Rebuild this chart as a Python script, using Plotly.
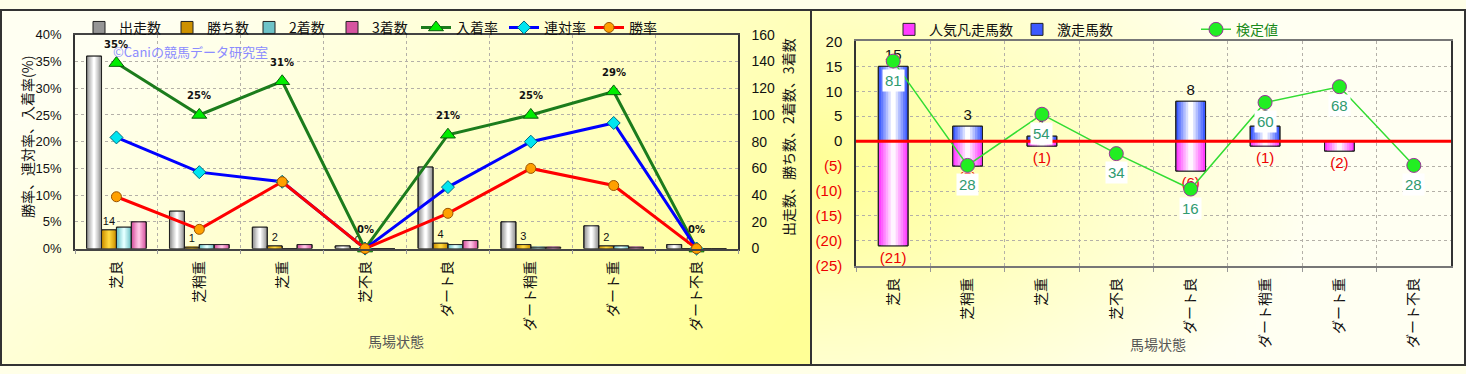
import base64
import struct
import zlib

import plotly.graph_objects as go

# ---------------------------------------------------------------- data
CATEGORIES = ["芝良", "芝稍重", "芝重", "芝不良", "ダート良", "ダート稍重", "ダート重", "ダート不良"]

STARTS = [144, 28, 16, 2, 61, 20, 17, 3]      # 出走数
WINS = [14, 1, 2, 0, 4, 3, 2, 0]              # 勝ち数
SECONDS = [16, 3, 0, 0, 3, 1, 2, 0]           # 2着数
THIRDS = [20, 3, 3, 0, 6, 1, 1, 0]            # 3着数

PLACE_RATE = [34.7, 25.0, 31.3, 0.0, 21.3, 25.0, 29.4, 0.0]     # 入着率 (%)
QUINELLA_RATE = [20.8, 14.3, 12.5, 0.0, 11.5, 20.0, 23.5, 0.0]  # 連対率 (%)
WIN_RATE = [9.7, 3.6, 12.5, 0.0, 6.6, 15.0, 11.8, 0.0]          # 勝率 (%)

HIT_COUNT = [15, 3, 1, 0, 8, 3, 0, 0]         # 激走馬数
FLOP_COUNT = [21, 5, 1, 0, 6, 1, 2, 0]        # 人気凡走馬数
TEST_VALUE = [81, 28, 54, 34, 16, 60, 68, 28]  # 検定値

PCT_TICKS = list(range(0, 41, 5))
COUNT_TICKS = list(range(0, 161, 20))
DIFF_TICKS = list(range(-25, 21, 5))

# ---------------------------------------------------------------- helpers
W, H = 1466, 374
FONT = "Liberation Sans, Noto Sans CJK JP"
JP = "Noto Sans CJK JP, Liberation Sans"


def px_x(p):
    return p / W


def px_y(p):
    return 1 - p / H


def hexcol(c):
    return "#%02x%02x%02x" % tuple(int(round(v)) for v in c)


def lerp(c0, c1, t):
    return tuple(a + (b - a) * t for a, b in zip(c0, c1))


def gradient_png(w, h, shade):
    """Small RGB PNG whose pixel colour comes from shade(u, v) with u, v in [0, 1]."""
    rows = []
    for j in range(h):
        row = bytearray([0])
        for i in range(w):
            r, g, b = shade(i / (w - 1), j / (h - 1))
            row += bytes([int(r), int(g), int(b)])
        rows.append(bytes(row))
    raw = b"".join(rows)

    def chunk(tag, data):
        c = struct.pack(">I", len(data)) + tag + data
        return c + struct.pack(">I", zlib.crc32(tag + data) & 0xFFFFFFFF)

    png = b"\x89PNG\r\n\x1a\n"
    png += chunk(b"IHDR", struct.pack(">IIBBBBB", w, h, 8, 2, 0, 0, 0))
    png += chunk(b"IDAT", zlib.compress(raw, 9))
    png += chunk(b"IEND", b"")
    return "data:image/png;base64," + base64.b64encode(png).decode()


LIGHT = (255, 255, 242)
YELLOW = (255, 255, 150)


def left_shade(u, v):
    t = min(1.0, max(0.0, 0.75 * u + 0.45 * v - 0.15))
    return lerp(LIGHT, YELLOW, t)


def right_shade(u, v):
    d = ((u * 1.3) ** 2 + ((v - 0.45) * 1.1) ** 2) ** 0.5
    t = min(1.0, d)
    return lerp(YELLOW, LIGHT, t)


fig = go.Figure()

# each legend entry gets its own legend box so the entries can be spaced freely
legend_boxes = {}


def legend_for(key, text_x, text_y):
    name = "legend" if not legend_boxes else f"legend{len(legend_boxes) + 1}"
    legend_boxes[name] = dict(
        x=px_x(text_x - 41), y=px_y(text_y - 12), xanchor="left", yanchor="top",
        orientation="h", bgcolor="rgba(0,0,0,0)", font=dict(size=14, family=JP),
        itemwidth=30,
    )
    return name


def add_cylinder_bars(x, y, center, width, edge, mid, name, legend, xaxis, yaxis,
                      text=None, textfont=None, layers=6):
    """Bars with a simple cylindrical shading built from nested layers."""
    for k in range(layers):
        frac = 1 - k / layers
        w = width * frac
        color = hexcol(lerp(edge, mid, k / (layers - 1)))
        fig.add_bar(
            x=x, y=y, width=w, offset=center - w / 2,
            marker=dict(color=color, line=dict(width=1 if k == 0 else 0, color="#222222")),
            name=name, legend=legend, showlegend=(k == 0),
            xaxis=xaxis, yaxis=yaxis, hoverinfo="skip",
        )
    fig.add_bar(
        x=x, y=y, width=width, offset=center - width / 2,
        marker=dict(color="rgba(0,0,0,0)", line=dict(width=1, color="#222222")),
        showlegend=False, xaxis=xaxis, yaxis=yaxis, hoverinfo="skip",
        text=text, textposition="outside" if text is not None else None,
        textfont=textfont, cliponaxis=False, constraintext="none",
    )


# ---------------------------------------------------------------- left chart: bars
BAR_W = 0.18
bar_series = [
    (STARTS, "出走数", (150, 150, 150), (255, 255, 255), None, 120),
    (WINS, "勝ち数", (205, 145, 0), (255, 215, 60), [str(v) for v in WINS], 208),
    (SECONDS, "2着数", (110, 195, 200), (225, 255, 255), None, 290),
    (THIRDS, "3着数", (215, 85, 160), (255, 195, 228), None, 373),
]
for i, (vals, name, edge, mid, txt, lx) in enumerate(bar_series):
    add_cylinder_bars(
        CATEGORIES, vals, -0.27 + i * BAR_W, BAR_W, edge, mid, name,
        legend_for(name, lx, 15), "x", "y",
        text=txt, textfont=dict(size=11, color="#111111", family=FONT),
    )

# ---------------------------------------------------------------- left chart: rate lines
fig.add_scatter(
    x=CATEGORIES, y=PLACE_RATE, name="入着率", legend=legend_for("place", 457, 15),
    mode="lines+markers", xaxis="x", yaxis="y2",
    line=dict(color="#1c7c1c", width=3),
    marker=dict(symbol="triangle-up", size=13, color="#00ee00", line=dict(color="#0d5c0d", width=1)),
    cliponaxis=False, hoverinfo="skip",
)
fig.add_scatter(
    x=CATEGORIES, y=QUINELLA_RATE, name="連対率", legend=legend_for("quinella", 545, 15),
    mode="lines+markers", xaxis="x", yaxis="y2",
    line=dict(color="#0000ff", width=3),
    marker=dict(symbol="diamond", size=10, color="#00e5f0", line=dict(color="#006a80", width=1)),
    cliponaxis=False, hoverinfo="skip",
)
fig.add_scatter(
    x=CATEGORIES, y=WIN_RATE, name="勝率", legend=legend_for("win", 630, 15),
    mode="lines+markers", xaxis="x", yaxis="y2",
    line=dict(color="#ff0000", width=3),
    marker=dict(symbol="circle", size=10, color="#ffa000", line=dict(color="#9a5200", width=1)),
    cliponaxis=False, hoverinfo="skip",
)

# ---------------------------------------------------------------- right chart: bars
add_cylinder_bars(
    CATEGORIES, [-v for v in FLOP_COUNT], 0.0, 0.40, (255, 60, 255), (255, 245, 255),
    "人気凡走馬数", legend_for("flop", 930, 17), "x2", "y3",
    text=[f"({v})" if v else "" for v in FLOP_COUNT],
    textfont=dict(size=15, color="#ee0000", family=FONT),
)
add_cylinder_bars(
    CATEGORIES, HIT_COUNT, 0.0, 0.40, (60, 90, 255), (255, 255, 255),
    "激走馬数", legend_for("hit", 1058, 17), "x2", "y3",
    text=[str(v) if v else "" for v in HIT_COUNT],
    textfont=dict(size=15, color="#111111", family=FONT),
)

fig.add_scatter(
    x=CATEGORIES, y=TEST_VALUE, name='<span style="color:#1a8a1a">検定値</span>',
    legend=legend_for("test", 1237, 17),
    mode="lines+markers", xaxis="x2", yaxis="y4",
    line=dict(color="#33dd33", width=1.5),
    marker=dict(symbol="circle", size=14, color="#22ee22", line=dict(color="#993399", width=1)),
    cliponaxis=False, hoverinfo="skip",
)

# ---------------------------------------------------------------- annotations
annotations = [
    dict(text="©Caniの競馬データ研究室", x=px_x(111), y=px_y(45), xref="paper", yref="paper",
         xanchor="left", yanchor="middle", showarrow=False,
         font=dict(size=13, color="#8c8cff", family=JP)),
    dict(text="勝率、連対率、入着率(%)", x=px_x(27), y=px_y(134), xref="paper", yref="paper",
         xanchor="center", yanchor="middle",
         textangle=-90, showarrow=False, font=dict(size=14, color="#111111", family=JP)),
    dict(text="出走数、勝ち数、2着数、3着数", x=px_x(788), y=px_y(134), xref="paper", yref="paper",
         xanchor="center", yanchor="middle",
         textangle=-90, showarrow=False, font=dict(size=14, color="#111111", family=JP)),
    dict(text="馬場状態", x=px_x(396), y=px_y(348), xref="paper", yref="paper",
         xanchor="center", yanchor="middle",
         showarrow=False, font=dict(size=14, color="#555555", family=JP)),
    dict(text="馬場状態", x=px_x(1158), y=px_y(351), xref="paper", yref="paper",
         xanchor="center", yanchor="middle",
         showarrow=False, font=dict(size=14, color="#555555", family=JP)),
]
# percentage labels above the 入着率 points
for cat, val in zip(CATEGORIES, PLACE_RATE):
    annotations.append(dict(
        text=f"<b>{val:.0f}%</b>", x=cat, y=val, xref="x", yref="y2", yshift=19,
        showarrow=False, font=dict(size=10, color="#111111", family="DejaVu Sans"),
    ))
# 検定値 labels under each point
for cat, val in zip(CATEGORIES, TEST_VALUE):
    annotations.append(dict(
        text=str(val), x=cat, y=val, xref="x2", yref="y4", yshift=-19,
        showarrow=False, bgcolor="#ffffff", borderpad=2,
        font=dict(size=15, color="#2f9a70", family=FONT),
    ))

# ---------------------------------------------------------------- layout
grid = dict(showgrid=True, gridcolor="#b4b0a8", griddash="dot", gridwidth=1)
xcommon = dict(type="category", tickson="boundaries", tickangle=-90, range=[-0.5, 7.5],
               ticks="outside", ticklen=4, tickcolor="#999999", ticklabelstandoff=5,
               tickfont=dict(size=14, color="#111111", family=JP), **grid)

pct_text = [f"{v}%" for v in PCT_TICKS]
diff_text = [f'<span style="color:#ee0000">({-v})</span>' if v < 0 else str(v) for v in DIFF_TICKS]

fig.update_layout(
    width=W, height=H, margin=dict(l=0, r=0, t=0, b=0),
    paper_bgcolor="#ffffe8", plot_bgcolor="#f6ecd6",
    barmode="overlay", showlegend=True,
    font=dict(family=FONT, color="#111111"),
    xaxis=dict(domain=[px_x(75), px_x(738)], anchor="y", showline=True, linecolor="#444444",
               linewidth=1.5, mirror=True, **xcommon),
    yaxis=dict(domain=[px_y(251), px_y(27)], anchor="x", side="right", range=[0, 160],
               tickvals=COUNT_TICKS, showline=True, linecolor="#333333", linewidth=1.5,
               ticks="", ticklabelstandoff=9, tickfont=dict(size=14), zeroline=False, **grid),
    yaxis2=dict(overlaying="y", side="left", anchor="x", range=[0, 40], tickvals=PCT_TICKS,
                ticktext=pct_text, showgrid=False, showline=True, linecolor="#333333",
                linewidth=1.5, ticks="", ticklabelstandoff=9, tickfont=dict(size=13),
                zeroline=False),
    xaxis2=dict(domain=[px_x(856), px_x(1451)], anchor="y3", showline=True, linecolor="#777777",
                linewidth=1.5, mirror=True, **xcommon),
    yaxis3=dict(domain=[px_y(269), px_y(34)], anchor="x2", range=[-25, 20], tickvals=DIFF_TICKS,
                ticktext=diff_text, showline=True, linecolor="#333333", linewidth=1.5, mirror=True,
                ticks="", ticklabelstandoff=9, tickfont=dict(size=15), zeroline=False, **grid),
    yaxis4=dict(overlaying="y3", anchor="x2", range=[-23, 91], visible=False),
    annotations=annotations,
    images=[
        dict(source=gradient_png(64, 24, left_shade), xref="paper", yref="paper",
             x=0, y=1, sizex=px_x(811), sizey=1, xanchor="left", yanchor="top",
             sizing="stretch", layer="below"),
        dict(source=gradient_png(64, 24, right_shade), xref="paper", yref="paper",
             x=px_x(811), y=1, sizex=1 - px_x(811), sizey=1, xanchor="left", yanchor="top",
             sizing="stretch", layer="below"),
    ],
    shapes=[
        dict(type="line", xref="x2 domain", yref="y3", x0=0, x1=1, y0=0, y1=0,
             line=dict(color="#ff0000", width=3), layer="above"),
        dict(type="rect", xref="paper", yref="paper", x0=px_x(1), x1=px_x(811), y0=px_y(373), y1=px_y(1),
             line=dict(color="#333333", width=2)),
        dict(type="rect", xref="paper", yref="paper", x0=px_x(811), x1=px_x(1465), y0=px_y(373), y1=px_y(1),
             line=dict(color="#333333", width=2)),
    ],
)
fig.update_layout(**legend_boxes)

fig.write_html("out.html")
